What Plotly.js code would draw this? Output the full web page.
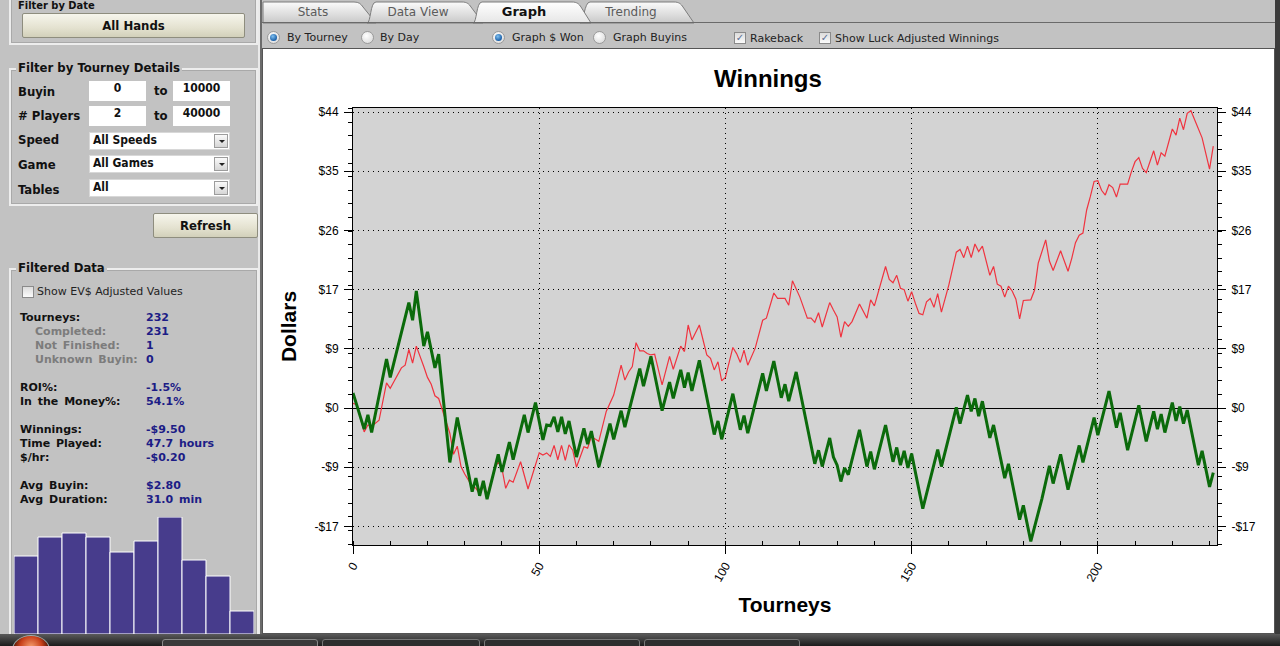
<!DOCTYPE html>
<html><head><meta charset="utf-8">
<script src="https://cdn.plot.ly/plotly-3.0.1.min.js"></script>
<style>
body{margin:0;width:1280px;height:646px;overflow:hidden;background:#c2c2c2;position:relative;font-family:"DejaVu Sans",Verdana,sans-serif;}
.a{position:absolute;}
.grp{position:absolute;border:2px solid #ededed;box-shadow:0 0 0 1px #a9a9a9 inset;}
.leg{position:absolute;background:#c2c2c2;padding:0 2px;font:bold 13px "DejaVu Sans Condensed","DejaVu Sans",sans-serif;color:#111;white-space:nowrap;}
.lbl{position:absolute;font:bold 13px "DejaVu Sans Condensed","DejaVu Sans",sans-serif;color:#111;white-space:nowrap;line-height:14px;}
.btn{position:absolute;background:linear-gradient(#f6f5ec,#e4e2d0 60%,#d2d0ba);border:1px solid #8e8d7e;border-radius:2px;font:bold 13px "DejaVu Sans Condensed","DejaVu Sans",sans-serif;text-align:center;color:#111;box-sizing:border-box;}
.inp{position:absolute;background:#fff;height:20px;line-height:20px;font:bold 12px "DejaVu Sans Condensed","DejaVu Sans",sans-serif;text-align:center;color:#111;}
.sel{position:absolute;background:#fff;height:18px;line-height:18px;width:141px;font:bold 12px "DejaVu Sans Condensed","DejaVu Sans",sans-serif;color:#111;box-sizing:border-box;padding-left:3px;border:1px solid #d8d8d8;}
.arr{position:absolute;right:1px;top:1px;width:14px;height:14px;background:linear-gradient(#fafafa,#d6d6d6);border:1px solid #9c9c9c;box-sizing:border-box;}
.arr:after{content:"";position:absolute;left:4px;top:5px;border-left:3px solid transparent;border-right:3px solid transparent;border-top:3px solid #222;}
.st{position:absolute;font:bold 11px "DejaVu Sans",Verdana,sans-serif;line-height:14px;white-space:nowrap;color:#111;word-spacing:2px;}
.sv{color:#1c1c86;}
.sg{color:#7c7c7c;}
.opt{position:absolute;font:11px "DejaVu Sans",sans-serif;color:#222;white-space:nowrap;line-height:14px;}
.rad{position:absolute;width:11px;height:11px;border-radius:50%;border:1px solid #9a9a9a;background:radial-gradient(circle at 40% 35%,#ffffff,#d4d4d4);}
.rad.on:after{content:"";position:absolute;left:2px;top:2px;width:7px;height:7px;border-radius:50%;background:radial-gradient(circle at 40% 35%,#7fc0f0,#1a5fa8 70%);}
.chk{position:absolute;width:10px;height:10px;border:1px solid #8a8a8a;background:linear-gradient(#dcdcdc,#fbfbfb);font:bold 10px "DejaVu Sans",sans-serif;line-height:10px;text-align:center;color:#5a6f95;}
</style></head>
<body>
<!-- left panel -->
<div class="a" style="left:258px;top:0;width:2px;height:634px;background:#eaeaea;"></div>
<div class="a" style="left:260px;top:0;width:2px;height:634px;background:#6b6b6b;"></div>

<div class="grp" style="left:9px;top:-10px;width:245px;height:51px;"></div>
<div class="leg" style="left:16px;top:0px;font-size:11px;line-height:11px;">Filter by Date</div>
<div class="btn" style="left:22px;top:13px;width:223px;height:25px;line-height:23px;">All Hands</div>

<div class="grp" style="left:9px;top:68px;width:245px;height:134px;"></div>
<div class="leg" style="left:16px;top:60px;">Filter by Tourney Details</div>
<div class="lbl" style="left:18px;top:85px;">Buyin</div>
<div class="inp" style="left:89px;top:81px;width:57px;">0</div>
<div class="lbl" style="left:154px;top:84px;">to</div>
<div class="inp" style="left:173px;top:81px;width:57px;">10000</div>
<div class="lbl" style="left:18px;top:109px;"># Players</div>
<div class="inp" style="left:89px;top:106px;width:57px;">2</div>
<div class="lbl" style="left:154px;top:109px;">to</div>
<div class="inp" style="left:173px;top:106px;width:57px;">40000</div>
<div class="lbl" style="left:18px;top:133px;">Speed</div>
<div class="sel" style="left:89px;top:132px;">All Speeds<div class="arr"></div></div>
<div class="lbl" style="left:18px;top:158px;">Game</div>
<div class="sel" style="left:89px;top:155px;">All Games<div class="arr"></div></div>
<div class="lbl" style="left:18px;top:183px;">Tables</div>
<div class="sel" style="left:89px;top:179px;">All<div class="arr"></div></div>
<div class="btn" style="left:153px;top:213px;width:105px;height:25px;line-height:23px;">Refresh</div>

<div class="grp" style="left:9px;top:268px;width:246px;height:380px;"></div>
<div class="leg" style="left:16px;top:260px;">Filtered Data</div>
<div class="chk" style="left:22px;top:286px;"></div>
<div class="opt" style="left:37px;top:285px;">Show EV$ Adjusted Values</div>

<div class="st" style="left:20px;top:311px;">Tourneys:</div><div class="st sv" style="left:146px;top:311px;">232</div>
<div class="st sg" style="left:35px;top:325px;">Completed:</div><div class="st sv" style="left:146px;top:325px;">231</div>
<div class="st sg" style="left:35px;top:339px;">Not Finished:</div><div class="st sv" style="left:146px;top:339px;">1</div>
<div class="st sg" style="left:35px;top:353px;">Unknown Buyin:</div><div class="st sv" style="left:146px;top:353px;">0</div>
<div class="st" style="left:20px;top:381px;">ROI%:</div><div class="st sv" style="left:146px;top:381px;">-1.5%</div>
<div class="st" style="left:20px;top:395px;">In the Money%:</div><div class="st sv" style="left:146px;top:395px;">54.1%</div>
<div class="st" style="left:20px;top:423px;">Winnings:</div><div class="st sv" style="left:146px;top:423px;">-$9.50</div>
<div class="st" style="left:20px;top:437px;">Time Played:</div><div class="st sv" style="left:146px;top:437px;">47.7 hours</div>
<div class="st" style="left:20px;top:451px;">$/hr:</div><div class="st sv" style="left:146px;top:451px;">-$0.20</div>
<div class="st" style="left:20px;top:479px;">Avg Buyin:</div><div class="st sv" style="left:146px;top:479px;">$2.80</div>
<div class="st" style="left:20px;top:493px;">Avg Duration:</div><div class="st sv" style="left:146px;top:493px;">31.0 min</div>

<div id="hist" class="a" style="left:14px;top:517px;width:240px;height:117px;"></div>

<!-- tabs -->
<svg class="a" style="left:262px;top:0;" width="440" height="24">
<defs>
<linearGradient id="tg" x1="0" y1="0" x2="0" y2="1"><stop offset="0" stop-color="#fbfbfb"/><stop offset="1" stop-color="#c9c9c9"/></linearGradient>
<linearGradient id="ta" x1="0" y1="0" x2="0" y2="1"><stop offset="0" stop-color="#ffffff"/><stop offset="1" stop-color="#e6e6e6"/></linearGradient>
</defs>
<path d="M1,23 L1,2 L92,2 C97,2 99,4 101,7 L114,23 Z" fill="url(#tg)" stroke="#7d7d7d"/>
<path d="M318,23 C322,23 322,2 328,2 L412,2 C417,2 419,4 421,7 L432,23 Z" fill="url(#tg)" stroke="#7d7d7d"/>
<path d="M105,23 C109,23 108,2 114,2 L200,2 C205,2 207,4 209,7 L221,23 Z" fill="url(#tg)" stroke="#7d7d7d"/>
<path d="M211,23 C215,23 214,2 220,2 L310,2 C315,2 317,4 319,7 L329,23 Z" fill="url(#ta)" stroke="#7d7d7d"/>
<text x="51" y="16" text-anchor="middle" font-family="DejaVu Sans" font-size="12" fill="#5b5b5b">Stats</text>
<text x="156" y="16" text-anchor="middle" font-family="DejaVu Sans" font-size="12" fill="#5b5b5b">Data View</text>
<text x="262" y="16" text-anchor="middle" font-family="DejaVu Sans" font-size="13" font-weight="bold" fill="#111">Graph</text>
<text x="369" y="16" text-anchor="middle" font-family="DejaVu Sans" font-size="12" fill="#5b5b5b">Trending</text>
</svg>
<div class="a" style="left:262px;top:22px;width:1013px;height:1px;background:#6a6a6a;"></div>
<div class="rad on" style="left:267px;top:31px;"></div><div class="opt" style="left:287px;top:31px;">By Tourney</div>
<div class="rad" style="left:361px;top:31px;"></div><div class="opt" style="left:380px;top:31px;">By Day</div>
<div class="rad on" style="left:492px;top:31px;"></div><div class="opt" style="left:512px;top:31px;">Graph $ Won</div>
<div class="rad" style="left:593px;top:31px;"></div><div class="opt" style="left:613px;top:31px;">Graph Buyins</div>
<div class="chk" style="left:734px;top:32px;">✓</div><div class="opt" style="left:750px;top:32px;">Rakeback</div>
<div class="chk" style="left:819px;top:32px;">✓</div><div class="opt" style="left:835px;top:32px;">Show Luck Adjusted Winnings</div>

<!-- plot frame -->
<div class="a" style="left:262px;top:48px;width:1013px;height:586px;background:#fff;border:1px solid #555;box-sizing:border-box;"></div>
<div id="plot" class="a" style="left:263px;top:50px;width:1010px;height:582px;"></div>
<div class="a" style="left:1275px;top:0;width:5px;height:646px;background:#3b3b3b;"></div>

<!-- taskbar -->
<div class="a" style="left:0;top:634px;width:1280px;height:12px;background:linear-gradient(#5a5a5a,#1c1c1c);"></div>
<div class="a" style="left:12px;top:635px;width:36px;height:28px;border-radius:50%;background:radial-gradient(circle at 50% 40%,#f5a070,#c8401a 45%,#5a1a0a 70%);border:1px solid #9aa;"></div>
<div class="a" style="left:162px;top:639px;width:154px;height:10px;border:1px solid #8a8a8a;border-radius:3px;background:#3a3a3a;"></div>
<div class="a" style="left:322px;top:639px;width:156px;height:10px;border:1px solid #777;border-radius:3px;background:#2e2e2e;"></div>
<div class="a" style="left:484px;top:639px;width:154px;height:10px;border:1px solid #777;border-radius:3px;background:#2e2e2e;"></div>
<div class="a" style="left:644px;top:639px;width:154px;height:10px;border:1px solid #777;border-radius:3px;background:#2e2e2e;"></div>

<script>
// ---- data ----
const greenX = [0,3,4,5,9,10,15,16,17,19,20,22,23,26,28,32,33,34,35,36,39,40,42,43,46,47,49,51,52,53,54,55,56,57,58,60,62,63,64,66,69,70,72,73,77,78,80,83,85,86,88,89,90,91,93,97,98,99,102,104,105,106,110,111,113,115,116,117,119,124,125,126,128,129,130,131,132,133,136,138,139,140,143,145,146,147,148,149,150,153,157,158,162,163,165,166,167,168,169,171,172,175,176,179,180,182,185,187,188,190,192,195,196,199,200,203,205,206,208,211,213,215,216,217,218,220,221,222,223,224,227,228,230,231];
const greenY = [2.2,-3.1,-1.0,-3.6,7.2,4.5,15.5,12.9,17.2,9.1,11.2,5.9,7.9,-8.0,-1.4,-12.3,-10.3,-12.9,-10.7,-13.4,-6.8,-9.4,-5.0,-7.6,-1.0,-3.6,0.8,-4.7,-2.5,-2.6,-1.3,-3.5,-1.3,-3.8,-1.9,-7.2,-3.0,-5.3,-3.4,-8.7,-2.3,-4.6,-0.4,-2.8,5.8,3.2,7.6,-0.4,3.8,1.4,5.6,3.0,5.2,2.5,7.0,-3.9,-1.9,-4.6,2.1,-3.2,-1.1,-3.7,5.1,2.5,6.9,1.5,3.5,1.0,5.3,-8.2,-6.2,-8.6,-4.4,-7.2,-8.4,-10.8,-8.8,-9.8,-3.2,-8.6,-6.4,-9.0,-2.5,-7.9,-5.8,-8.4,-6.3,-8.8,-6.7,-14.8,-6.1,-8.6,0.1,-2.3,1.9,-0.5,1.4,-1.2,1.0,-4.4,-2.5,-10.3,-8.2,-16.4,-14.3,-19.6,-13.3,-8.5,-11.1,-6.8,-12.0,-5.5,-8.0,-1.4,-4.0,2.5,-2.9,-0.7,-6.2,0.4,-4.9,-0.5,-3.1,-0.9,-3.6,0.8,-1.9,0.2,-2.3,-0.3,-8.4,-6.3,-11.6,-9.5];
const redX = [0,1,3,4,5,7,9,10,11,13,14,15,16,17,19,20,21,22,23,24,26,27,28,29,30,32,33,34,35,36,38,39,40,41,42,43,45,47,50,51,52,53,54,55,56,57,58,59,60,62,63,64,66,68,69,70,72,73,74,75,76,77,78,79,80,81,83,85,86,88,89,90,91,93,95,96,97,98,99,100,102,103,104,105,106,108,110,111,113,114,116,117,118,120,122,123,124,125,126,128,129,130,131,132,133,134,136,138,139,140,143,144,145,146,147,148,149,150,151,152,153,154,155,156,157,158,160,162,163,164,165,166,167,168,169,171,172,173,174,175,176,177,178,179,180,182,183,184,186,187,188,190,192,193,194,195,196,197,198,199,200,201,202,203,204,205,206,208,209,210,211,212,213,215,216,217,218,220,221,222,223,224,225,227,228,230,231];
const redY = [0.7,0.5,-3.5,-2.5,-2.7,-1.8,3.7,2.9,3.9,5.9,6.3,8.6,6.6,9.1,6.1,4.5,3.5,1.8,1.4,-0.3,-3.7,-6.8,-5.6,-8.6,-9.7,-11.5,-11.8,-12.6,-11.5,-12.8,-9.0,-7.9,-8.9,-11.8,-10.6,-10.9,-7.9,-11.9,-6.6,-6.9,-6.6,-7.1,-5.5,-7.6,-5.5,-7.7,-5.4,-6.2,-8.7,-5.7,-5.9,-4.2,-4.9,-0.5,0.7,1.9,6.3,4.1,5.3,6.1,9.6,8.4,8.4,8.0,7.8,7.9,3.4,7.6,5.7,9.1,8.3,12.2,10.0,12.2,7.8,7.3,5.6,6.8,4.0,4.5,8.9,8.0,6.7,8.5,6.3,8.8,12.9,13.2,16.9,16.1,16.1,15.1,18.7,16.3,13.2,13.2,12.6,14.0,11.9,15.5,14.4,13.4,10.4,12.7,12.0,12.7,15.3,13.2,15.9,15.0,20.8,18.9,18.4,19.5,17.6,17.4,15.7,17.1,15.4,13.9,13.7,15.6,16.1,14.8,16.8,14.1,18.1,22.9,23.3,22.1,23.8,22.1,24.1,23.0,23.8,19.5,20.8,18.2,17.9,16.3,17.9,17.2,16.0,13.1,15.8,15.9,17.3,21.3,24.7,21.6,20.2,23.1,20.1,22.0,24.3,25.4,25.7,29.1,31.1,33.3,33.4,32.0,31.3,32.8,32.4,31.0,32.9,32.9,34.7,36.2,36.8,35.2,34.6,37.8,35.7,37.5,37.0,41.0,40.1,42.6,40.9,43.3,43.7,40.9,39.7,35.1,38.5];
const yTickVals = [-17.4,-8.7,0,8.7,17.4,26.1,34.8,43.5];
const yTickText = ['-$17','-$9','$0','$9','$17','$26','$35','$44'];
const xTickVals = [0,50,100,150,200];
const xTickText = ['0','50','100','150','200'];
const histBins = [1,2,3,4,5,6,7,8,9,10];
const histValues = [78,97,101,97,82,93,117,74,58,23];

// ---- main chart ----
const yRange = [-20.13, 44.09];
const tf = {family:'"Liberation Sans", Arial, sans-serif', size:12, color:'#000'};
const ttl = {family:'"Liberation Sans", Arial, sans-serif', size:21, color:'#000'};
const yCommon = {
  range: yRange, tickmode:'array', tickvals: yTickVals, ticktext: yTickText,
  ticks:'outside', ticklen:8, tickcolor:'#000', tickwidth:1, ticklabelstandoff:3,
  showline:true, linecolor:'#000', linewidth:1, tickfont: tf, fixedrange:true,
  minor:{tickmode:'linear', tick0:0, dtick:2, ticks:'outside', ticklen:4, tickcolor:'#000', showgrid:false}
};
const layout = {
  width:1010, height:582,
  margin:{l:90, r:56, t:58, b:87},
  paper_bgcolor:'#ffffff', plot_bgcolor:'#d3d3d3', showlegend:false,
  title:{text:'<b>Winnings</b>', font:{family:'"Liberation Sans", Arial, sans-serif', size:24, color:'#000'},
         x:0.5, xref:'container', xanchor:'center', y:1-29/582, yref:'container', yanchor:'middle'},
  xaxis:{range:[0,232], tickmode:'array', tickvals:xTickVals, ticktext:xTickText, tickangle:-60,
         ticks:'outside', ticklen:8, tickcolor:'#000', showline:true, linecolor:'#000', linewidth:1, mirror:true,
         showgrid:true, gridcolor:'#000', gridwidth:1, griddash:'1px,4px', zeroline:false, tickfont:tf,
         minor:{tickmode:'linear', tick0:0, dtick:10, ticks:'inside', ticklen:4, tickcolor:'#000', showgrid:false},
         title:{text:'<b>Tourneys</b>', font:ttl, standoff:14}},
  yaxis: Object.assign({}, yCommon, {side:'left', showgrid:true, gridcolor:'#000', gridwidth:1, griddash:'1px,4px',
         zeroline:true, zerolinecolor:'#000', zerolinewidth:1,
         title:{text:'<b>Dollars</b>', font:ttl, standoff:12}}),
  yaxis2: Object.assign({}, yCommon, {side:'right', overlaying:'y', showgrid:false, zeroline:false})
};
const traces = [
  {x:redX, y:redY, type:'scatter', mode:'lines', line:{color:'#f0333f', width:1.2}, yaxis:'y', hoverinfo:'skip'},
  {x:greenX, y:greenY, type:'scatter', mode:'lines', line:{color:'#0b6a0b', width:3}, yaxis:'y2', hoverinfo:'skip'}
];
Plotly.newPlot('plot', traces, layout, {staticPlot:true, displayModeBar:false});

// ---- left histogram ----
Plotly.newPlot('hist', [{x:histBins, y:histValues, type:'bar', marker:{color:'#473c8c', line:{color:'#ffffff', width:1}}, hoverinfo:'skip'}],
  {width:240, height:117, margin:{l:0,r:0,t:0,b:0}, paper_bgcolor:'rgba(0,0,0,0)', plot_bgcolor:'rgba(0,0,0,0)',
   bargap:0, xaxis:{visible:false, range:[0.5,10.5]}, yaxis:{visible:false, range:[0,117]}, showlegend:false},
  {staticPlot:true, displayModeBar:false});
</script>
</body></html>
